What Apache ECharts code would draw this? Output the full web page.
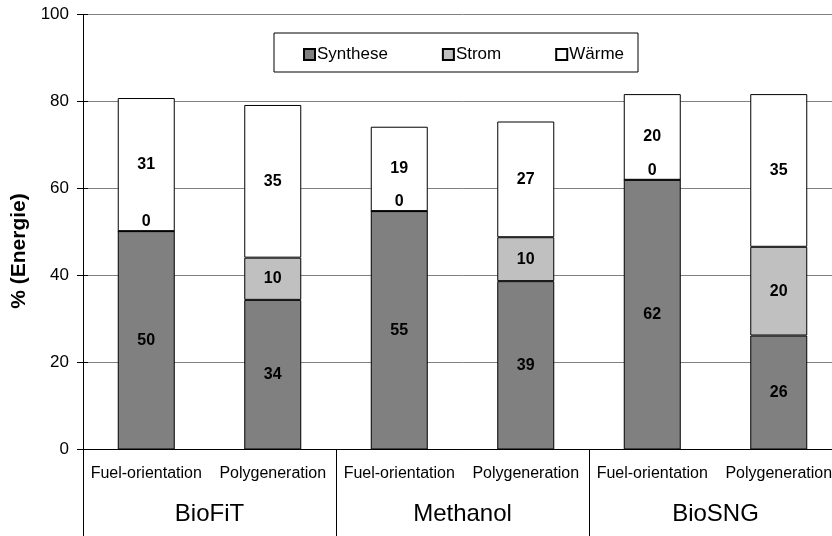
<!DOCTYPE html>
<html>
<head>
<meta charset="utf-8">
<script src="https://cdn.jsdelivr.net/npm/echarts@6/dist/echarts.min.js"></script>
<style>html,body{margin:0;padding:0;background:#fff;overflow:hidden;width:832px;height:536px}#c{width:842px;height:536px}</style>
</head>
<body>
<div id="c"></div>
<script>
const categories = ['Fuel-orientation', 'Polygeneration', 'Fuel-orientation', 'Polygeneration', 'Fuel-orientation', 'Polygeneration'];
const groups = ['BioFiT', 'Methanol', 'BioSNG'];
const synthese = [50.2, 34.4, 54.8, 38.7, 62.0, 26.2];
const strom = [0, 9.7, 0, 10.1, 0, 20.4];
const waerme = [30.6, 35.1, 19.4, 26.6, 19.7, 35.1];
const yTicks = [0, 20, 40, 60, 80, 100];

const FONT = 'Arial, "Liberation Sans", sans-serif';
const chart = echarts.init(document.getElementById('c'));

const labelBase = {
  show: true, position: 'inside', color: '#000', fontWeight: 'bold',
  fontSize: 16, fontFamily: FONT,
  formatter: p => String(Math.round(p.value))
};
function mkData(arr) {
  return arr.map(v => v === 0 ? { value: v, label: { position: 'top', distance: 1 } } : v);
}
function mkSeries(name, arr, color) {
  return {
    name, type: 'bar', stack: 'a', barWidth: 57, data: mkData(arr),
    itemStyle: { color, borderColor: '#000', borderWidth: 1 },
    label: labelBase, emphasis: { disabled: true }, animation: false
  };
}

chart.setOption({
  animation: false,
  textStyle: { fontFamily: FONT },
  grid: { left: 83, right: 0, top: 14.5, bottom: 86.5, containLabel: false },
  graphic: [{
    type: 'rect', shape: { x: 274, y: 33, width: 364, height: 39 },
    style: { fill: '#fff', stroke: '#000', lineWidth: 1 }, z: 0, silent: true
  }],
  legend: {
    left: 298, top: 41, itemGap: 54, itemWidth: 11, itemHeight: 11, icon: 'rect',
    textStyle: { fontSize: 17, color: '#000', fontFamily: FONT, padding: [0, 0, 0, -3] },
    data: ['Synthese', 'Strom', 'Wärme'], selectedMode: false
  },
  xAxis: [{
    type: 'category', data: categories, position: 'bottom',
    axisLine: { lineStyle: { color: '#000', width: 1 } },
    axisTick: { length: 5, lineStyle: { color: '#000' } },
    axisLabel: { fontSize: 16, color: '#000', margin: 16, fontFamily: FONT, interval: 0 },
    splitLine: { show: false }
  }, {
    type: 'category', data: groups, position: 'bottom',
    axisLine: { show: true, lineStyle: { color: '#000', width: 1 } },
    axisTick: { show: true, length: 87, lineStyle: { color: '#000' } },
    axisLabel: { fontSize: 24, color: '#000', margin: 53, fontFamily: FONT },
    splitLine: { show: false }
  }],
  yAxis: [{
    type: 'value', min: 0, max: 100, interval: 20,
    name: '% (Energie)', nameLocation: 'middle', nameGap: 47,
    nameTextStyle: { fontSize: 21, fontWeight: 'bold', color: '#000', fontFamily: FONT, padding: [0, 38, 0, 0] },
    axisLine: { show: true, lineStyle: { color: '#000' } },
    axisTick: { show: true, length: 6, lineStyle: { color: '#000' } },
    axisLabel: { fontSize: 17, color: '#000', margin: 14, fontFamily: FONT,
      formatter: v => yTicks.includes(v) ? String(v) : '' },
    splitLine: { show: true, lineStyle: { color: '#808080', width: 1 } }
  }, {
    type: 'value', min: 0, max: 100, interval: 20, position: 'left',
    axisLine: { show: true, lineStyle: { color: '#000' } },
    axisTick: { show: true, inside: true, length: 5, lineStyle: { color: '#000' } },
    axisLabel: { show: false }, splitLine: { show: false }
  }],
  series: [
    mkSeries('Synthese', synthese, '#808080'),
    mkSeries('Strom', strom, '#c0c0c0'),
    mkSeries('Wärme', waerme, '#ffffff')
  ]
});
</script>
</body>
</html>
